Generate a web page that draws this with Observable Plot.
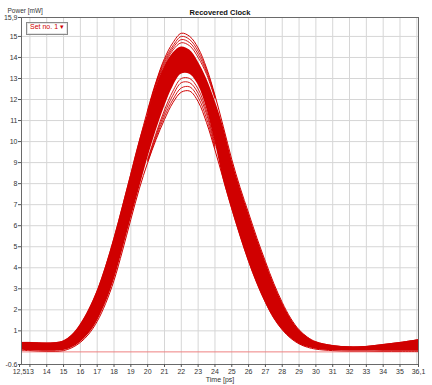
<!DOCTYPE html>
<html>
<head>
<meta charset="utf-8">
<script src="https://cdn.jsdelivr.net/npm/d3@7"></script>
<script src="https://cdn.jsdelivr.net/npm/@observablehq/plot@0.6"></script>
<style>
  html, body { margin: 0; padding: 0; background: #fff; }
  #wrap { position: relative; width: 432px; height: 385px; }
  #legend { position: absolute; left: 26px; top: 22px; height: 11px; line-height: 11px; padding: 0 3px;
    border: 1px solid #8a8a8a; box-shadow: inset 0 0 0 1px #e4e4e4; font: 7px "Liberation Sans", Arial, sans-serif; color: #d00000; background: #fff; white-space: nowrap; }
</style>
</head>
<body>
<div id="wrap"><div id="legend">Set no. 1 ▾</div></div>
<script>
// ---- Data ----
const title = "Recovered Clock";
const yLabel = "Power [mW]";
const xLabel = "Time [ps]";
const legendLabel = "Set no. 1";

const xTicks = [12.5, 13, 14, 15, 16, 17, 18, 19, 20, 21, 22, 23, 24, 25, 26, 27, 28, 29, 30, 31, 32, 33, 34, 35, 36.1];
const xTickLabels = ["12,5", "13", "14", "15", "16", "17", "18", "19", "20", "21", "22", "23", "24", "25", "26", "27", "28", "29", "30", "31", "32", "33", "34", "35", "36,1"];
const yTicks = [-0.6, 1, 2, 3, 4, 5, 6, 7, 8, 9, 10, 11, 12, 13, 14, 15, 15.9];
const yTickLabels = ["-0.6", "1", "2", "3", "4", "5", "6", "7", "8", "9", "10", "11", "12", "13", "14", "15", "15,9"];
const gridXValues = [13, 14, 15, 16, 17, 18, 19, 20, 21, 22, 23, 24, 25, 26, 27, 28, 29, 30, 31, 32, 33, 34, 35, 36];
const gridYValues = [1, 2, 3, 4, 5, 6, 7, 8, 9, 10, 11, 12, 13, 14, 15];

// Time grid (ps) of the eye envelope
const time = [12.5, 13, 13.5, 14, 14.5, 15, 15.5, 16, 16.5, 17, 17.5, 18, 18.5, 19, 19.5, 20, 20.5, 21, 21.5, 22, 22.5, 23, 23.5, 24, 24.5, 25, 25.5, 26, 26.5, 27, 27.5, 28, 28.5, 29, 29.5, 30, 31, 32, 33, 34, 35, 36.1];
// Outer upper envelope (mW)
const upper = [0.45, 0.45, 0.43, 0.42, 0.44, 0.52, 0.8, 1.3, 2.0, 2.9, 4.05, 5.4, 6.9, 8.45, 10.0, 11.5, 12.85, 13.95, 14.7, 15.15, 15.0, 14.45, 13.5, 12.2, 10.7, 9.15, 7.8, 6.6, 5.4, 4.3, 3.25, 2.35, 1.6, 1.05, 0.7, 0.48, 0.3, 0.24, 0.26, 0.35, 0.45, 0.58];
// Outer lower envelope (mW)
const lower = [0.08, 0.06, 0.04, 0.03, 0.03, 0.06, 0.2, 0.45, 0.85, 1.45, 2.3, 3.4, 4.8, 6.3, 7.75, 9.0, 10.1, 11.05, 11.85, 12.35, 12.4, 11.9, 10.9, 9.6, 8.2, 6.8, 5.5, 4.3, 3.25, 2.35, 1.6, 1.05, 0.65, 0.38, 0.22, 0.13, 0.06, 0.04, 0.04, 0.03, 0.03, 0.03];

// Peak window where individual traces are visible
const peakTime = [20, 20.5, 21, 21.5, 22, 22.5, 23, 23.5, 24];
const denseTop = [11.3, 12.6, 13.55, 14.2, 14.5, 14.35, 13.8, 13.0, 11.95];
const denseBottom = [9.2, 10.5, 11.65, 12.6, 13.2, 13.2, 12.7, 11.6, 10.0];
const topTrace1 = [11.45, 12.8, 13.85, 14.55, 15.0, 14.85, 14.3, 13.4, 12.15];
const topTrace2 = [11.4, 12.75, 13.75, 14.45, 14.85, 14.7, 14.15, 13.3, 12.1];
const topTrace3 = [11.35, 12.7, 13.65, 14.35, 14.7, 14.55, 14.0, 13.2, 12.05];
const bottomTrace1 = [9.05, 10.2, 11.2, 12.0, 12.55, 12.6, 12.1, 11.1, 9.7];
const bottomTrace2 = [9.1, 10.3, 11.35, 12.2, 12.8, 12.8, 12.3, 11.3, 9.8];
const bottomTrace3 = [9.15, 10.4, 11.5, 12.4, 13.0, 13.0, 12.5, 11.45, 9.9];
const referenceLevel = [0];

// ---- Build tables ----
const RED = "#d00000";
const band = time.map((t, i) => {
  const k = peakTime.indexOf(t);
  return {t, hi: k >= 0 ? denseTop[k] : upper[i], lo: k >= 0 ? denseBottom[k] : lower[i]};
});
const outerUpper = time.map((t, i) => ({t, v: upper[i]}));
const outerLower = time.map((t, i) => ({t, v: lower[i]}));
const traces = [topTrace1, topTrace2, topTrace3, bottomTrace1, bottomTrace2, bottomTrace3]
  .flatMap((arr, s) => arr.map((v, i) => ({s, t: peakTime[i], v})));

const xLabelMap = new Map(xTicks.map((d, i) => [d, xTickLabels[i]]));
const yLabelMap = new Map(yTicks.map((d, i) => [d, yTickLabels[i]]));
const xTicksFirst = xTicks.slice(0, 1);
const xTicksRest = xTicks.slice(1);

const chart = Plot.plot({
  width: 432,
  height: 385,
  marginLeft: 21,
  marginRight: 14,
  marginTop: 17,
  marginBottom: 21,
  x: {domain: [12.5, 36.1]},
  y: {domain: [-0.6, 15.9]},
  style: {fontFamily: "'Liberation Sans', Arial, sans-serif", fontSize: "7px", background: "#fff", color: "#333"},
  marks: [
    Plot.gridX(gridXValues, {stroke: "#d6d6d6", strokeOpacity: 1}),
    Plot.gridY(gridYValues, {stroke: "#d6d6d6", strokeOpacity: 1}),
    Plot.ruleY(referenceLevel, {stroke: "#ee8080", strokeWidth: 1}),
    Plot.areaY(band, {x: "t", y1: "lo", y2: "hi", curve: "catmull-rom", fill: RED}),
    Plot.lineY(outerUpper, {x: "t", y: "v", curve: "catmull-rom", stroke: RED, strokeWidth: 1}),
    Plot.lineY(outerLower, {x: "t", y: "v", curve: "catmull-rom", stroke: RED, strokeWidth: 1}),
    Plot.lineY(traces, {x: "t", y: "v", z: "s", curve: "catmull-rom", stroke: RED, strokeWidth: 0.9}),
    Plot.frame({stroke: "#6a6a6a"}),
    Plot.axisX(xTicksRest, {tickFormat: d => xLabelMap.get(d), tickSize: 3, tickPadding: 2, label: null, stroke: "#555", fill: "#333"}),
    Plot.axisX(xTicksFirst, {tickFormat: d => xLabelMap.get(d), tickSize: 3, tickPadding: 2, label: null, stroke: "#555", fill: "#333", dx: -2}),
    Plot.axisY(yTicks, {tickFormat: d => yLabelMap.get(d), tickSize: 3, tickPadding: 1, label: null, stroke: "#555", fill: "#333"}),
    Plot.text([title], {frameAnchor: "top", dy: -8, fontWeight: "bold", fontSize: 7.5, fill: "#111"}),
    Plot.text([yLabel], {frameAnchor: "top-left", dx: -14, dy: -9, textAnchor: "start", fontSize: 6.5, fill: "#333"}),
    Plot.text([xLabel], {frameAnchor: "bottom", dy: 17, fontSize: 7, fill: "#333"})
  ]
});
document.getElementById("wrap").prepend(chart);
document.getElementById("legend").textContent = legendLabel + " ▾";
</script>
</body>
</html>
